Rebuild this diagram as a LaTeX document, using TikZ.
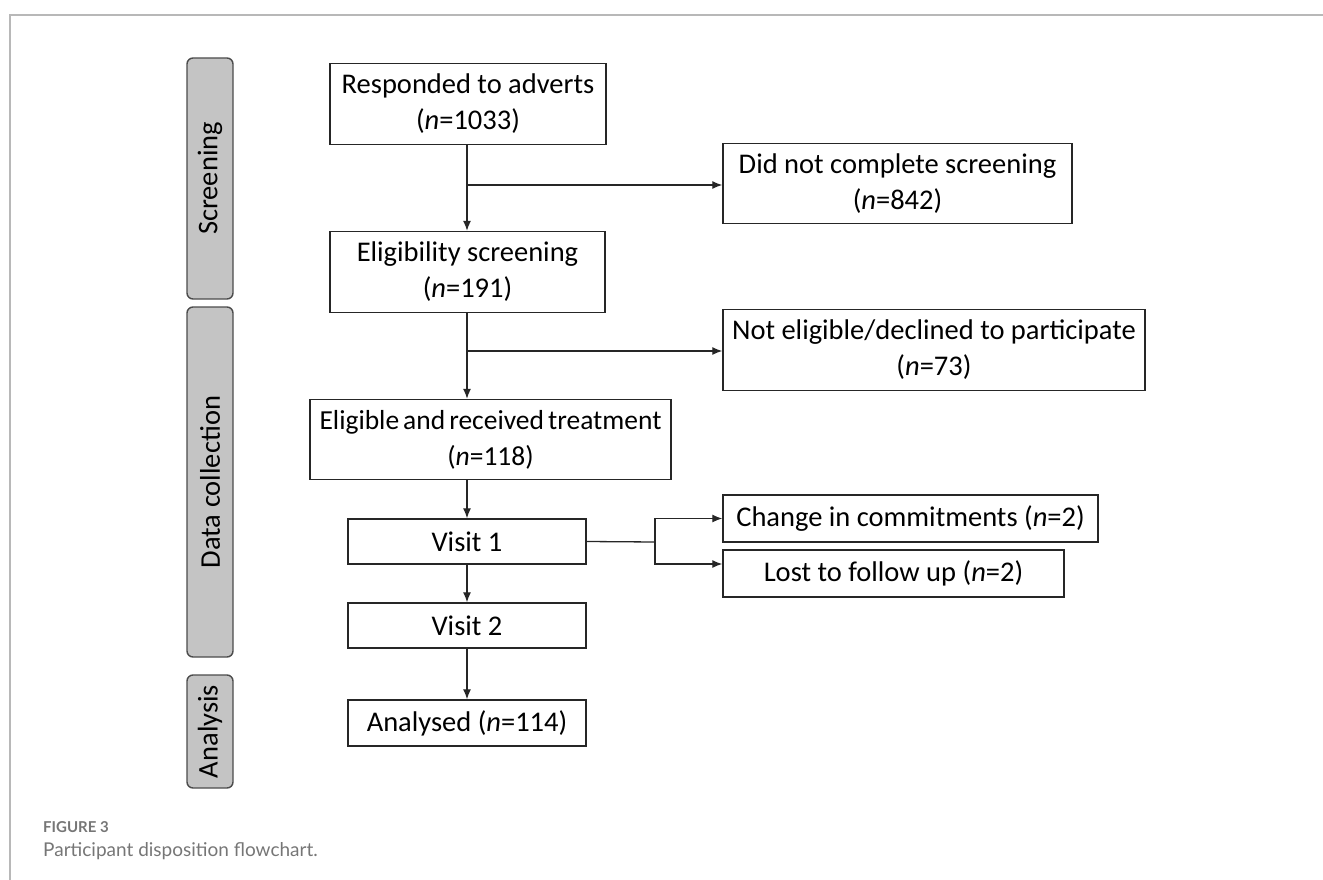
\documentclass[tikz,border=0pt]{standalone}
\usepackage{fontspec}
\setmainfont{Carlito}
\newfontfamily\capfont{Lato}
\usepackage{xcolor}
\usepackage{tikz}
\usetikzlibrary{arrows.meta}
\usetikzlibrary{positioning}

\definecolor{framegray}{HTML}{B8B8B8}
\definecolor{bargray}{HTML}{C4C4C4}
\definecolor{capgray}{HTML}{767676}

\begin{document}
\begin{tikzpicture}[x=1pt, y=-1pt,
    box/.style={draw=black!85, line width=1.4pt, align=center, inner sep=0pt,
      font=\fontsize{28.5}{36}\selectfont},
    phase/.style={draw=black!70, fill=bargray, line width=1.4pt, rounded corners=6pt,
      rotate=90, minimum height=46pt, inner sep=0pt,
      font=\fontsize{28.5}{33}\selectfont},
    link/.style={line width=1.3pt, black!85}]
    \useasboundingbox (0,0) rectangle (1323,880);
    % outer frame, only top and left edges show
    \draw[framegray, line width=2pt] (1323,15) -- (10,15) -- (10,880);
    % phases
    \node[phase, minimum width=241pt] (scr) at (210,178.5) {Screening};
    \node[phase, minimum width=350pt] (dat) at (210,482) {Data collection};
    \node[phase, minimum width=113pt] (ana) at (210,731.5) {Analysis};
    % main column
    \node[box, minimum width=276pt, minimum height=81pt] (resp) at (468,104)
      {Responded to adverts\\(\textit{n}=1033)};
    \node[box, minimum width=275pt, minimum height=81pt] (elig) at (467.5,272)
      {Eligibility screening\\(\textit{n}=191)};
    \node[box, minimum width=361pt, minimum height=80pt,
      font=\fontsize{27.5}{36}\selectfont] (treat) at (490.5,439.5)
      {\spaceskip=4pt Eligible and received treatment\\(\textit{n}=118)};
    \node[box, minimum width=238pt, minimum height=45pt] (v1) at (467,541.5) {Visit 1};
    \node[box, minimum width=238pt, minimum height=45pt] (v2) at (467,625.5) {Visit 2};
    \node[box, minimum width=238pt, minimum height=46pt] (anl) at (467,723)
      {Analysed (\textit{n}=114)};
    % exclusions
    \node[box, minimum width=349pt, minimum height=80pt] (dnc) at (897.5,183.5)
      {Did not complete screening\\(\textit{n}=842)};
    \node[box, minimum width=422pt, minimum height=81pt] (nel) at (934,350)
      {Not eligible/declined to participate\\(\textit{n}=73)};
    \node[box, minimum width=375pt, minimum height=47pt] (chg) at (910.5,518.5)
      {Change in commitments (\textit{n}=2)};
    \node[box, minimum width=341pt, minimum height=47pt] (lost) at (893.5,573.5)
      {Lost to follow up (\textit{n}=2)};
    % branch points
    \coordinate (b1) at (467,185);
    \coordinate (b2) at (467,351);
    \coordinate (j) at (655,542);
    \coordinate (jb) at (655,564);
    \path[->,>={Latex[length=10pt,width=8pt]}, link]
    (resp.south -| b1) edge (elig.north -| b1)
    (b1) edge (b1 -| dnc.west)
    (elig.south -| b2) edge (treat.north -| b2)
    (b2) edge (b2 -| nel.west)
    (treat.south -| v1) edge (v1.north)
    (v1) edge (v2)
    (v2) edge (anl) ;
    \draw[link] (v1.east) -- (j);
    \draw[->,>={Latex[length=10pt,width=8pt]}, link] (j) |- (chg.west);
    \draw[->,>={Latex[length=10pt,width=8pt]}, link] (j) |- (jb -| lost.west);
    % caption
    \node[anchor=base west, inner sep=0pt, text=capgray,
      font=\capfont\bfseries\fontsize{15}{18}\selectfont] (fig) at (43,832) {FIGURE 3};
    \node[anchor=base west, inner sep=0pt, text=capgray,
      font=\capfont\fontsize{19}{22}\selectfont] (cap) at (43,856)
      {Participant disposition flowchart.};
\end{tikzpicture}
\end{document}
